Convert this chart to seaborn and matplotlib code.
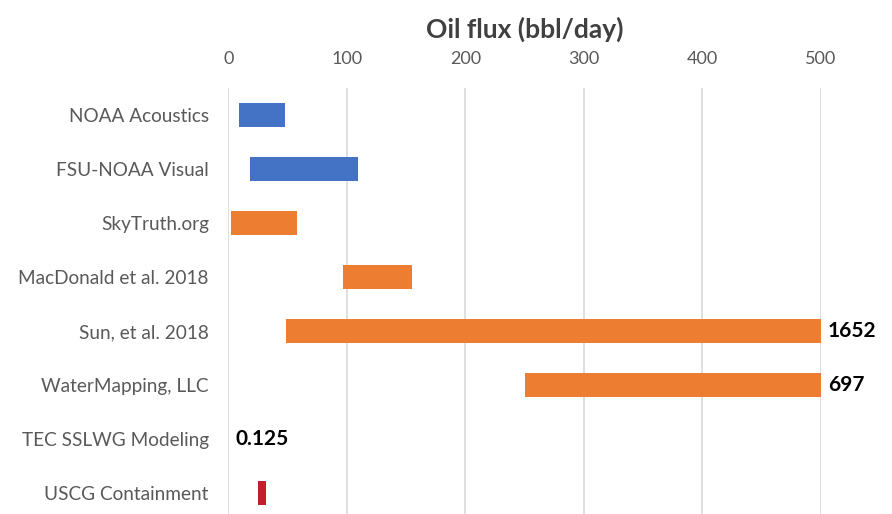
import matplotlib
matplotlib.use("Agg")
import matplotlib.pyplot as plt
import seaborn as sns
import pandas as pd
import numpy as np

categories = ["NOAA Acoustics", "FSU-NOAA Visual", "SkyTruth.org", "MacDonald et al. 2018",
              "Sun, et al. 2018", "WaterMapping, LLC", "TEC SSLWG Modeling", "USCG Containment"]
low = [9, 18, 2, 97, 49, 250, 0, 25]
high = [48, 109, 58, 155, 1652, 697, 0.125, 32]
groups = ["blue", "blue", "orange", "orange", "orange", "orange", "red", "red"]
end_labels = [None, None, None, None, "1652", "697", "0.125", None]
axis_cap = 500
xticks = [0, 100, 200, 300, 400, 500]

colors = {"blue": "#4472C4", "orange": "#ED7D31", "red": "#C0202A"}

df = pd.DataFrame({"cat": categories, "low": low, "high": high, "grp": groups})
df["shown_high"] = df["high"].clip(upper=axis_cap)
df["width"] = df["shown_high"] - df["low"]

sns.set_theme(style="white")
plt.rcParams["font.family"] = ["Lato", "DejaVu Sans"]

fig = plt.figure(figsize=(8.92, 5.14), dpi=100)
ax = fig.add_axes([228.3 / 892, 0, (821 - 228.3) / 892, (514 - 88) / 514])

sns.barplot(data=df, x="width", y="cat", hue="cat", order=categories,
            palette=[colors[g] for g in groups], width=0.43, legend=False,
            orient="h", ax=ax, saturation=1)

# shift bars to start at their low value
for p in ax.patches:
    yc = p.get_y() + p.get_height() / 2
    i = int(round(yc))
    p.set_x(df["low"].iloc[i])
    p.set_edgecolor("none")

ax.set_xlim(0, axis_cap)
ax.set_ylim(-0.5 + (514 - 88) / 54, -0.5)

ax.set_xticks(xticks)
ax.xaxis.tick_top()
ax.xaxis.set_label_position("top")
ax.tick_params(axis="x", length=0, pad=15, labelsize=13, labelcolor="#595959")
ax.tick_params(axis="y", length=0, pad=14, labelsize=13.7, labelcolor="#595959")
ax.set_ylabel("")
ax.set_xlabel("Oil flux (bbl/day)", fontsize=19, fontweight="bold", color="#404040", labelpad=9.5)
ax.grid(axis="x", color="#D9D9D9", linewidth=1.2)
ax.set_axisbelow(True)
for s in ax.spines.values():
    s.set_visible(False)

for i, lab in enumerate(end_labels):
    if lab is None:
        continue
    xv = df["shown_high"].iloc[i]
    ax.annotate(lab, xy=(xv, i), xytext=(5, 0), textcoords="offset points",
                ha="left", va="center", fontsize=15, fontweight="bold", color="black",
                annotation_clip=False)

fig.savefig("out.png", dpi=100)
